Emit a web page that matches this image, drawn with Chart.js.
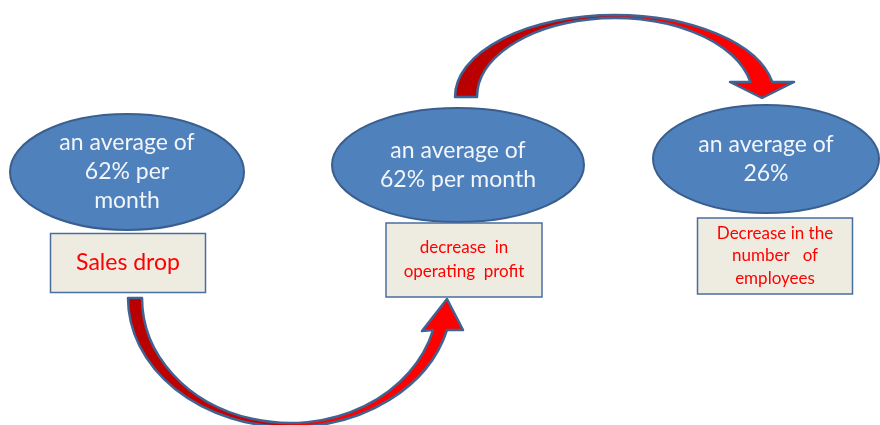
<!DOCTYPE html>
<html>
<head>
<meta charset="utf-8">
<script src="https://cdn.jsdelivr.net/npm/chart.js@4.4.1/dist/chart.umd.min.js"></script>
<style>
  html, body { margin: 0; padding: 0; background: #fff; }
  #flow { display: block; }
</style>
</head>
<body>
<canvas id="flow" width="880" height="425"></canvas>
<script>
// text of the diagram
const stepTitles = [
    ["an average of", "62% per", "month"],
    ["an average of", "62% per month"],
    ["an average of", "26%"]
];
const stepLabels = [
    ["Sales drop"],
    ["decrease  in", "operating  profit"],
    ["Decrease in the", "number   of", "employees"]
];

// layout in scale units (the scales run 0..880 and 0..425)
const ovals = [
    { x: 127, y: 172, rx: 117, ry: 58 },
    { x: 458, y: 165, rx: 126, ry: 57 },
    { x: 766, y: 159, rx: 113, ry: 54 }
];
const boxes = [
    { x: 128, y: 263, w: 155, h: 59, size: 23, lh: 24 },
    { x: 464, y: 260, w: 156, h: 74, size: 17, lh: 24 },
    { x: 775, y: 256, w: 155, h: 76, size: 17, lh: 22.5 }
];
// curved arrows: outer / inner ellipse arcs plus head
const arrows = [
    { // bottom, box 1 -> box 2
        down: true,
        outer: { x: 290, y: 298, rx: 162, ry: 129 },
        inner: { x: 290, y: 298, rx: 148, ry: 125 },
        endY: 330,
        head: [[463, 330], [447, 299], [422, 331]]
    },
    { // top, oval 2 -> oval 3
        down: false,
        outer: { x: 615, y: 97, rx: 160, ry: 82 },
        inner: { x: 615, y: 97, rx: 138, ry: 79 },
        endY: 82,
        head: [[730, 82], [762, 98], [794, 82]]
    }
];

const FONT = "Lato, 'Open Sans', sans-serif";

function drawArrow(ctx, X, Y, a) {
    const o = a.outer, n = a.inner;
    const sx = X.getPixelForValue(o.x + o.rx) - X.getPixelForValue(o.x);
    const sy = Math.abs(Y.getPixelForValue(o.y + o.ry) - Y.getPixelForValue(o.y));
    const ix = X.getPixelForValue(n.x + n.rx) - X.getPixelForValue(n.x);
    const iy = Math.abs(Y.getPixelForValue(n.y + n.ry) - Y.getPixelForValue(n.y));
    const to = Math.asin(Math.abs(a.endY - o.y) / o.ry);
    const ti = Math.asin(Math.abs(a.endY - n.y) / n.ry);
    ctx.beginPath();
    if (a.down) {
        ctx.ellipse(X.getPixelForValue(o.x), Y.getPixelForValue(o.y), sx, sy, 0, Math.PI, to, true);
        a.head.forEach(p => ctx.lineTo(X.getPixelForValue(p[0]), Y.getPixelForValue(p[1])));
        ctx.ellipse(X.getPixelForValue(n.x), Y.getPixelForValue(n.y), ix, iy, 0, ti, Math.PI, false);
    } else {
        ctx.ellipse(X.getPixelForValue(o.x), Y.getPixelForValue(o.y), sx, sy, 0, Math.PI, 2 * Math.PI - to, false);
        a.head.slice().reverse().forEach(p => ctx.lineTo(X.getPixelForValue(p[0]), Y.getPixelForValue(p[1])));
        ctx.ellipse(X.getPixelForValue(n.x), Y.getPixelForValue(n.y), ix, iy, 0, 2 * Math.PI - ti, Math.PI, true);
    }
    ctx.closePath();
    const g = ctx.createLinearGradient(X.getPixelForValue(o.x - o.rx), 0, X.getPixelForValue(o.x + o.rx), 0);
    g.addColorStop(0, "#b80000");
    g.addColorStop(0.45, "#cc0000");
    g.addColorStop(0.55, "#ff0000");
    g.addColorStop(1, "#ff0000");
    ctx.fillStyle = g;
    ctx.fill();
    ctx.lineWidth = 2.5;
    ctx.strokeStyle = "#3f6392";
    ctx.stroke();
}

const diagram = {
    id: "diagram",
    beforeDatasetsDraw(chart) {
        const ctx = chart.ctx, X = chart.scales.x, Y = chart.scales.y;
        ctx.save();
        ctx.lineJoin = "round";
        arrows.forEach(a => drawArrow(ctx, X, Y, a));
        ctx.restore();
    },
    afterDatasetsDraw(chart) {
        const ctx = chart.ctx, X = chart.scales.x, Y = chart.scales.y;
        const pts = chart.getDatasetMeta(0).data;
        ctx.save();
        ctx.textAlign = "center";
        ctx.textBaseline = "middle";
        pts.forEach((pt, i) => {
            const ov = ovals[i];
            const rx = X.getPixelForValue(ov.x + ov.rx) - pt.x;
            const ry = Math.abs(Y.getPixelForValue(ov.y + ov.ry) - pt.y);
            ctx.beginPath();
            ctx.ellipse(pt.x, pt.y, rx, ry, 0, 0, 2 * Math.PI);
            ctx.fillStyle = "#4f81bd";
            ctx.fill();
            ctx.lineWidth = 2;
            ctx.strokeStyle = "#3a5f8e";
            ctx.stroke();

            ctx.fillStyle = "#f2f5fa";
            ctx.font = "23px " + FONT;
            const t = stepTitles[i];
            t.forEach((line, k) => {
                ctx.fillText(line, pt.x, pt.y + (k - (t.length - 1) / 2) * 29);
            });

            const b = boxes[i];
            const bx = X.getPixelForValue(b.x - b.w / 2);
            const by = Y.getPixelForValue(b.y - b.h / 2);
            const bw = X.getPixelForValue(b.x + b.w / 2) - bx;
            const bh = Y.getPixelForValue(b.y + b.h / 2) - by;
            ctx.fillStyle = "#eeece1";
            ctx.fillRect(bx, by, bw, bh);
            ctx.lineWidth = 1.5;
            ctx.strokeStyle = "#4a6ea0";
            ctx.strokeRect(bx, by, bw, bh);

            ctx.fillStyle = "#ff0000";
            ctx.font = b.size + "px " + FONT;
            const l = stepLabels[i];
            const cy = Y.getPixelForValue(b.y);
            const cx = X.getPixelForValue(b.x);
            l.forEach((line, k) => {
                ctx.fillText(line, cx, cy + (k - (l.length - 1) / 2) * b.lh);
            });
        });
        ctx.restore();
    }
};

new Chart("flow", {
    type: "scatter",
    data: {
        datasets: [{
            data: ovals.map(o => ({ x: o.x, y: o.y })),
            pointRadius: 0,
            pointHoverRadius: 0
        }]
    },
    options: {
        responsive: false,
        animation: false,
        layout: { padding: 0 },
        plugins: { legend: { display: false }, tooltip: { enabled: false } },
        scales: {
            x: { type: "linear", min: 0, max: 880, display: false },
            y: { type: "linear", min: 0, max: 425, reverse: true, display: false }
        }
    },
    plugins: [diagram]
});
</script>
</body>
</html>
